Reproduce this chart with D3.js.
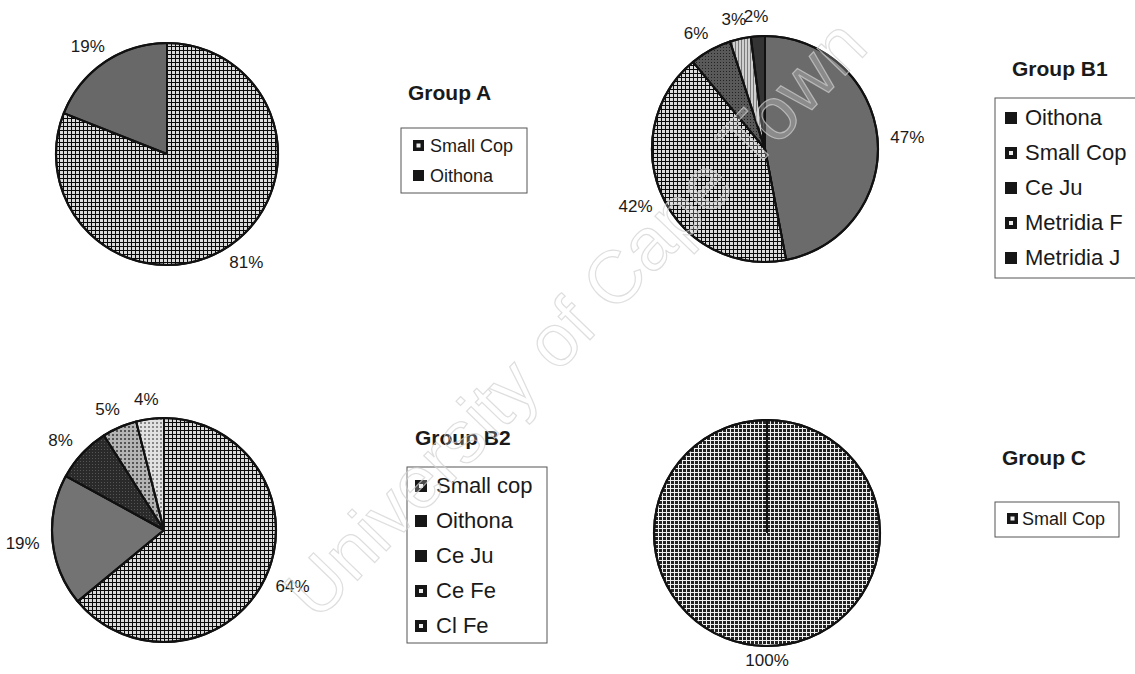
<!DOCTYPE html>
<html>
<head>
<meta charset="utf-8">
<script src="https://cdn.jsdelivr.net/npm/d3@7"></script>
<style>
  body { margin: 0; background: #fff; }
  svg { display: block; font-family: "Liberation Sans", Arial, sans-serif; }
</style>
</head>
<body>
<div id="chart"></div>
<script>
// Data (percent of total).
const groupALabels = ["Small Cop", "Oithona"];
const groupAValues = [81, 19];

const groupB1Labels = ["Oithona", "Small Cop", "Ce Ju", "Metridia F", "Metridia J"];
const groupB1Values = [47, 42, 6, 3, 2];

const groupB2Labels = ["Small cop", "Oithona", "Ce Ju", "Ce Fe", "Cl Fe"];
const groupB2Values = [64, 19, 8, 5, 4];

const groupCLabels = ["Small Cop"];
const groupCValues = [100];

// Fills for each slice (same order as the labels).
const groupAFills = ["url(#pGrid)", "#686868"];
const groupB1Fills = ["#6b6b6b", "url(#pGrid)", "url(#pDarkDot)", "url(#pLight)", "#343434"];
const groupB2Fills = ["url(#pGrid)", "#737373", "url(#pBlackDot)", "url(#pMid)", "url(#pPale)"];
const groupCFills = ["url(#pDots)"];

// Legend swatches are printed almost black; light halftones get a small pale mark.
const lightFills = ["url(#pGrid)", "url(#pDots)", "url(#pLight)", "url(#pMid)", "url(#pPale)"];

const width = 1135;
const height = 674;

const svg = d3.select("#chart")
  .append("svg")
    .attr("width", width)
    .attr("height", height);

// Hatch-like fills that imitate the printed halftones.
const defs = svg.append("defs");
function addPattern(id, size, bg, marks) {
  const p = defs.append("pattern")
    .attr("id", id)
    .attr("patternUnits", "userSpaceOnUse")
    .attr("width", size)
    .attr("height", size);
  p.append("rect").attr("width", size).attr("height", size).attr("fill", bg);
  marks.forEach(m => {
    p.append("rect")
      .attr("x", m[0]).attr("y", m[1])
      .attr("width", m[2]).attr("height", m[3])
      .attr("fill", m[4]);
  });
}
addPattern("pGrid", 4, "#dadada", [[0, 0, 4, 1, "#0a0a0a"], [0, 0, 1, 4, "#0a0a0a"]]);
addPattern("pDots", 4, "#f0f0f0", [[0, 0, 3, 3, "#222"]]);
addPattern("pDarkDot", 3, "#595959", [[0, 0, 1, 1, "#222"]]);
addPattern("pLight", 3, "#cfcfcf", [[0, 0, 1, 3, "#7c7c7c"]]);
addPattern("pBlackDot", 3, "#2a2a2a", [[0, 0, 1, 1, "#555"]]);
addPattern("pMid", 4, "#b4b4b4", [[0, 0, 2, 2, "#555"]]);
addPattern("pPale", 4, "#e2e2e2", [[0, 0, 2, 2, "#888"]]);

const pie = d3.pie().sort(null).value(d => d.value);

function drawPie(labels, values, fills, cfg) {
  const data = labels.map((name, i) => ({ name, value: values[i], fill: fills[i] }));
  const total = d3.sum(values);
  const arcs = pie(data);
  const arc = d3.arc().innerRadius(0).outerRadius(cfg.r);
  const lx = cfg.r + (cfg.lx || 30);
  const ly = cfg.r + (cfg.ly || 20);

  const g = svg.append("g")
    .attr("transform", `translate(${cfg.cx},${cfg.cy})`);

  g.selectAll("path.slice")
    .data(arcs)
    .join("path")
      .attr("class", "slice")
      .attr("d", arc)
      .attr("fill", d => d.data.fill)
      .attr("stroke", "#111")
      .attr("stroke-width", 2)
      .attr("stroke-linejoin", "round");

  // Radial edge at each slice start (shows the seam on a 100% pie too).
  g.selectAll("line.edge")
    .data(arcs)
    .join("line")
      .attr("class", "edge")
      .attr("x1", 0).attr("y1", 0)
      .attr("x2", d => Math.sin(d.startAngle) * cfg.r)
      .attr("y2", d => -Math.cos(d.startAngle) * cfg.r)
      .attr("stroke", "#111")
      .attr("stroke-width", 2);

  g.append("circle")
    .attr("r", cfg.r)
    .attr("fill", "none")
    .attr("stroke", "#111")
    .attr("stroke-width", 2.2);

  // Percent labels just outside the rim.
  g.selectAll("text.pct")
    .data(arcs)
    .join("text")
      .attr("class", "pct")
      .attr("x", d => Math.sin((d.startAngle + d.endAngle) / 2) * lx)
      .attr("y", d => -Math.cos((d.startAngle + d.endAngle) / 2) * ly)
      .attr("dy", "0.36em")
      .attr("text-anchor", "middle")
      .attr("font-size", 17)
      .attr("fill", "#1a1a1a")
      .text(d => `${Math.round(d.data.value / total * 100)}%`);
}

function drawLegend(title, labels, fills, cfg) {
  const g = svg.append("g");

  g.append("text")
    .attr("x", cfg.titleX)
    .attr("y", cfg.titleY)
    .attr("font-size", 21)
    .attr("font-weight", "bold")
    .attr("fill", "#1a1a1a")
    .text(title);

  g.append("rect")
    .attr("x", cfg.x)
    .attr("y", cfg.y)
    .attr("width", cfg.w)
    .attr("height", cfg.h)
    .attr("fill", "#fff")
    .attr("stroke", "#555")
    .attr("stroke-width", 1);

  const rows = g.selectAll("g.row")
    .data(labels)
    .join("g")
      .attr("class", "row")
      .attr("transform", (d, i) => `translate(0,${cfg.firstBaseline + i * cfg.step})`);

  rows.append("rect")
    .attr("x", cfg.swatchX)
    .attr("y", -cfg.swatch - 1)
    .attr("width", cfg.swatch)
    .attr("height", cfg.swatch)
    .attr("fill", "#161616");

  rows.filter((d, i) => lightFills.includes(fills[i]))
    .append("rect")
      .attr("x", cfg.swatchX + cfg.swatch / 2 - 2)
      .attr("y", -cfg.swatch / 2 - 3)
      .attr("width", 4)
      .attr("height", 4)
      .attr("fill", "#eee");

  rows.append("text")
    .attr("x", cfg.textX)
    .attr("y", 0)
    .attr("font-size", cfg.fontSize)
    .attr("fill", "#1a1a1a")
    .text(d => d);
}

drawPie(groupALabels, groupAValues, groupAFills, { cx: 167, cy: 154, r: 111 });
drawLegend("Group A", groupALabels, groupAFills, {
  titleX: 408, titleY: 100, x: 401, y: 128, w: 126, h: 65,
  swatchX: 413, swatch: 11, textX: 430, firstBaseline: 152, step: 30, fontSize: 18
});

drawPie(groupB1Labels, groupB1Values, groupB1Fills, { cx: 765, cy: 149, r: 113 });
drawLegend("Group B1", groupB1Labels, groupB1Fills, {
  titleX: 1012, titleY: 76, x: 995, y: 98, w: 150, h: 180,
  swatchX: 1005, swatch: 12, textX: 1025, firstBaseline: 125, step: 35, fontSize: 22
});

drawPie(groupB2Labels, groupB2Values, groupB2Fills, { cx: 164, cy: 530, r: 112 });
drawLegend("Group B2", groupB2Labels, groupB2Fills, {
  titleX: 415, titleY: 445, x: 407, y: 467, w: 140, h: 176,
  swatchX: 415, swatch: 12, textX: 436, firstBaseline: 493, step: 35, fontSize: 22
});

drawPie(groupCLabels, groupCValues, groupCFills, { cx: 767, cy: 533, r: 113, ly: 14 });
drawLegend("Group C", groupCLabels, groupCFills, {
  titleX: 1002, titleY: 465, x: 995, y: 502, w: 124, h: 35,
  swatchX: 1007, swatch: 11, textX: 1022, firstBaseline: 525, step: 30, fontSize: 18
});

// Faint scanned watermark across the page.
svg.append("text")
  .attr("transform", "translate(575,318) rotate(-46)")
  .attr("text-anchor", "middle")
  .attr("dy", "0.35em")
  .attr("font-size", 74)
  .attr("fill", "#fff")
  .attr("fill-opacity", 0.22)
  .attr("stroke", "#d0d0d0")
  .attr("stroke-opacity", 0.7)
  .attr("stroke-width", 1.2)
  .text("University of Cape Town");
</script>
</body>
</html>
